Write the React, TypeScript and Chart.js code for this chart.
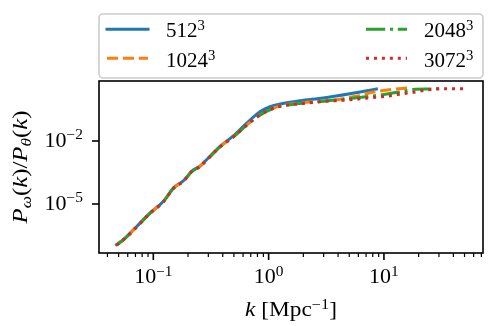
import { useEffect, useRef } from 'react';
import { Chart, registerables } from 'chart.js';

Chart.register(...registerables);

// ---- data ----
const seriesNames = ['512', '1024', '2048', '3072'];
const seriesExponent = '3';

const k512 = [0.048, 0.0569, 0.0718, 0.0935, 0.122, 0.149, 0.16, 0.182, 0.215, 0.254, 0.3, 0.379, 0.494, 0.646, 0.841, 1.03, 1.26, 1.87, 2.97, 5.08, 7.58, 8.6];
const r512 = [1.15e-7, 2.4e-7, 8.5e-7, 3.7e-6, 1.3e-5, 5.7e-5, 7.8e-5, 1.25e-4, 3.6e-4, 6.4e-4, 1.55e-3, 5.6e-3, 0.0175, 0.071, 0.245, 0.427, 0.575, 0.83, 1.12, 1.78, 2.63, 3.0];

const k1024 = [0.048, 0.0569, 0.0718, 0.0935, 0.122, 0.149, 0.16, 0.182, 0.215, 0.254, 0.3, 0.379, 0.494, 0.646, 0.841, 1.1, 1.26, 1.87, 3.6, 5.7, 8.2, 11.7, 15.6, 16.8];
const r1024 = [1.1e-7, 2.3e-7, 8.2e-7, 3.6e-6, 1.28e-5, 5.5e-5, 7.5e-5, 1.2e-4, 3.45e-4, 6.2e-4, 1.5e-3, 5.3e-3, 0.0158, 0.0575, 0.174, 0.363, 0.47, 0.65, 0.87, 1.35, 2.14, 2.88, 3.3, 3.4];

const k2048 = [0.048, 0.0569, 0.0718, 0.0935, 0.122, 0.149, 0.16, 0.182, 0.215, 0.254, 0.3, 0.379, 0.494, 0.646, 0.841, 1.1, 1.26, 1.53, 2.78, 5.08, 9.27, 13.5, 18.6, 25.0, 32.5];
const r2048 = [1.1e-7, 2.3e-7, 8.2e-7, 3.6e-6, 1.28e-5, 5.5e-5, 7.5e-5, 1.2e-4, 3.45e-4, 6.2e-4, 1.5e-3, 5.3e-3, 0.0158, 0.0575, 0.174, 0.363, 0.46, 0.537, 0.76, 1.05, 1.55, 2.14, 2.88, 3.0, 3.09];

const k3072 = [0.048, 0.0569, 0.0718, 0.0935, 0.122, 0.149, 0.16, 0.182, 0.215, 0.254, 0.3, 0.379, 0.494, 0.646, 0.841, 1.1, 1.26, 1.53, 2.2, 3.08, 4.42, 7.58, 10.9, 13.0, 15.6, 18.6, 21.8, 26.7, 31.9, 39.0, 45.7, 50.0];
const r3072 = [1.1e-7, 2.3e-7, 8.2e-7, 3.6e-6, 1.28e-5, 5.5e-5, 7.5e-5, 1.2e-4, 3.45e-4, 6.2e-4, 1.5e-3, 5.3e-3, 0.0158, 0.0575, 0.174, 0.363, 0.45, 0.537, 0.645, 0.776, 0.87, 1.15, 1.38, 1.62, 1.86, 2.14, 2.51, 2.88, 3.09, 3.09, 3.09, 3.09];

const xMajorTicks = [0.1, 1, 10];
const xTickExps = ['\u22121', '0', '1'];
const yMajorTicks = [1e-2, 1e-5];
const yTickExps = ['\u22122', '\u22125'];
const xMin = 0.0338;
const xMax = 72.3;
const yMin = 4.65e-8;
const yMax = 7.19;

// ---- styles ----
const colors = ['#1f77b4', '#ff7f0e', '#2ca02c', '#d62728'];
const dashes: number[][] = [[], [11.1, 4.8], [19.2, 4.8, 3, 4.8], [3, 4.95]];
const caps: CanvasLineCap[] = ['square', 'butt', 'butt', 'butt'];
const FONT = '"Liberation Serif", "Times New Roman", serif';

type Run = { t: string; it?: boolean; s?: 'sup' | 'sub' };

function runFont(r: Run, base: number) {
  const size = r.s ? base * 0.7 : base;
  return `${r.it ? 'italic ' : ''}${size}px ${FONT}`;
}
function measureRuns(ctx: CanvasRenderingContext2D, runs: Run[], base: number) {
  let w = 0;
  for (const r of runs) {
    ctx.font = runFont(r, base);
    w += ctx.measureText(r.t).width;
  }
  return w;
}
function drawRuns(
  ctx: CanvasRenderingContext2D,
  runs: Run[],
  x: number,
  y: number,
  base: number,
  align: 'left' | 'center' | 'right',
  sx = 1
) {
  const w = measureRuns(ctx, runs, base) * sx;
  let cx = align === 'left' ? x : align === 'center' ? x - w / 2 : x - w;
  ctx.textAlign = 'left';
  ctx.textBaseline = 'alphabetic';
  for (const r of runs) {
    ctx.font = runFont(r, base);
    const dy = r.s === 'sup' ? -base * 0.36 : r.s === 'sub' ? base * 0.2 : 0;
    ctx.save();
    ctx.translate(cx, y + dy);
    ctx.scale(sx, 1);
    ctx.fillText(r.t, 0, 0);
    ctx.restore();
    cx += ctx.measureText(r.t).width * sx;
  }
}

const mplPlugin = {
  id: 'mplDecor',
  afterDraw(chart: any) {
    const ctx: CanvasRenderingContext2D = chart.ctx;
    const { left, right, top, bottom } = chart.chartArea;
    const xs = chart.scales.x;
    const ys = chart.scales.y;
    ctx.save();
    ctx.fillStyle = '#000';
    ctx.strokeStyle = '#000';

    // spines
    ctx.lineWidth = 1.6;
    ctx.setLineDash([]);
    ctx.strokeRect(left, top, right - left, bottom - top);

    // x minor ticks
    ctx.lineWidth = 1.2;
    for (const dec of [0.01, 0.1, 1, 10]) {
      for (let m = 2; m <= 9; m++) {
        const v = dec * m;
        if (v < xMin || v > xMax) continue;
        const px = xs.getPixelForValue(v);
        ctx.beginPath();
        ctx.moveTo(px, bottom);
        ctx.lineTo(px, bottom + 4);
        ctx.stroke();
      }
    }
    // x major ticks + labels
    ctx.lineWidth = 1.6;
    xMajorTicks.forEach((v, i) => {
      const px = xs.getPixelForValue(v);
      ctx.beginPath();
      ctx.moveTo(px, bottom);
      ctx.lineTo(px, bottom + 7);
      ctx.stroke();
      drawRuns(ctx, [{ t: '10' }, { t: xTickExps[i], s: 'sup' }], px, bottom + 30, 20, 'center', 1.1);
    });
    // y major ticks + labels
    yMajorTicks.forEach((v, i) => {
      const py = ys.getPixelForValue(v);
      ctx.beginPath();
      ctx.moveTo(left, py);
      ctx.lineTo(left - 7, py);
      ctx.stroke();
      drawRuns(ctx, [{ t: '10' }, { t: yTickExps[i], s: 'sup' }], left - 16, py + 5.5, 20, 'right', 1.1);
    });

    // x title
    const xTitle: Run[] = [{ t: 'k', it: true }, { t: ' [Mpc' }, { t: '\u22121', s: 'sup' }, { t: ']' }];
    const xw = measureRuns(ctx, xTitle, 20);
    drawRuns(ctx, xTitle, (left + right) / 2, 316, 20, 'center', 92 / xw);

    // y title
    const yTitle: Run[] = [
      { t: 'P', it: true }, { t: '\u03c9', it: true, s: 'sub' }, { t: '(' }, { t: 'k', it: true }, { t: ')/' },
      { t: 'P', it: true }, { t: '\u03b8', it: true, s: 'sub' }, { t: '(' }, { t: 'k', it: true }, { t: ')' },
    ];
    const yw = measureRuns(ctx, yTitle, 20);
    ctx.save();
    ctx.translate(27, (top + bottom) / 2);
    ctx.rotate(-Math.PI / 2);
    drawRuns(ctx, yTitle, 0, 0, 20, 'center', 113 / yw);
    ctx.restore();

    // legend frame
    const lx0 = left, lx1 = right, ly0 = 14, ly1 = 78, rad = 4;
    ctx.beginPath();
    ctx.moveTo(lx0 + rad, ly0);
    ctx.arcTo(lx1, ly0, lx1, ly1, rad);
    ctx.arcTo(lx1, ly1, lx0, ly1, rad);
    ctx.arcTo(lx0, ly1, lx0, ly0, rad);
    ctx.arcTo(lx0, ly0, lx1, ly0, rad);
    ctx.closePath();
    ctx.fillStyle = 'rgba(255,255,255,0.8)';
    ctx.fill();
    ctx.strokeStyle = '#cccccc';
    ctx.lineWidth = 1.6;
    ctx.stroke();

    // legend entries (column-major, 2 columns)
    const cols = [
      { hx: 107, tx: 166 },
      { hx: 366, tx: 424 },
    ];
    const rows = [
      { hy: 29.3, ty: 37 },
      { hy: 58.3, ty: 66.7 },
    ];
    seriesNames.forEach((name, i) => {
      const c = cols[Math.floor(i / 2)];
      const r = rows[i % 2];
      ctx.save();
      ctx.strokeStyle = colors[i];
      ctx.lineWidth = 3;
      ctx.lineCap = caps[i];
      ctx.setLineDash(dashes[i]);
      ctx.beginPath();
      ctx.moveTo(c.hx, r.hy);
      ctx.lineTo(c.hx + 41, r.hy);
      ctx.stroke();
      ctx.restore();
      ctx.fillStyle = '#000';
      drawRuns(ctx, [{ t: name }, { t: seriesExponent, s: 'sup' }], c.tx, r.ty, 20, 'left', 1.05);
    });

    ctx.restore();
  },
};

export default function App() {
  const ref = useRef<HTMLCanvasElement | null>(null);
  useEffect(() => {
    if (!ref.current) return;
    const ks = [k512, k1024, k2048, k3072];
    const rs = [r512, r1024, r2048, r3072];
    const chart = new Chart(ref.current, {
      type: 'line',
      data: {
        datasets: seriesNames.map((name, i) => ({
          label: name + '\u00b3',
          data: ks[i].map((k, j) => ({ x: k, y: rs[i][j] })),
          borderColor: colors[i],
          backgroundColor: colors[i],
          borderWidth: 3,
          borderDash: dashes[i],
          borderCapStyle: caps[i],
          borderJoinStyle: 'round',
          pointRadius: 0,
          pointHoverRadius: 0,
          fill: false,
          cubicInterpolationMode: 'monotone',
          order: 4 - i,
        })) as any,
      },
      options: {
        animation: false,
        responsive: false,
        devicePixelRatio: 1,
        events: [],
        layout: { padding: { left: 0, top: 81, right: 13, bottom: 0 } },
        plugins: { legend: { display: false }, tooltip: { enabled: false }, title: { display: false } },
        scales: {
          x: {
            type: 'logarithmic',
            min: xMin,
            max: xMax,
            bounds: 'data',
            grid: { display: false, drawTicks: false },
            border: { display: false },
            ticks: { display: false },
            afterFit: (s: any) => {
              s.height = 73;
            },
          },
          y: {
            type: 'logarithmic',
            min: yMin,
            max: yMax,
            bounds: 'data',
            grid: { display: false, drawTicks: false },
            border: { display: false },
            ticks: { display: false },
            afterFit: (s: any) => {
              s.width = 99;
            },
          },
        },
      } as any,
      plugins: [mplPlugin],
    });
    return () => chart.destroy();
  }, []);
  return (
    <div style={{ position: 'absolute', left: 0, top: 0, width: 496, height: 326 }}>
      <canvas ref={ref} width={496} height={326} style={{ display: 'block' }} />
    </div>
  );
}
